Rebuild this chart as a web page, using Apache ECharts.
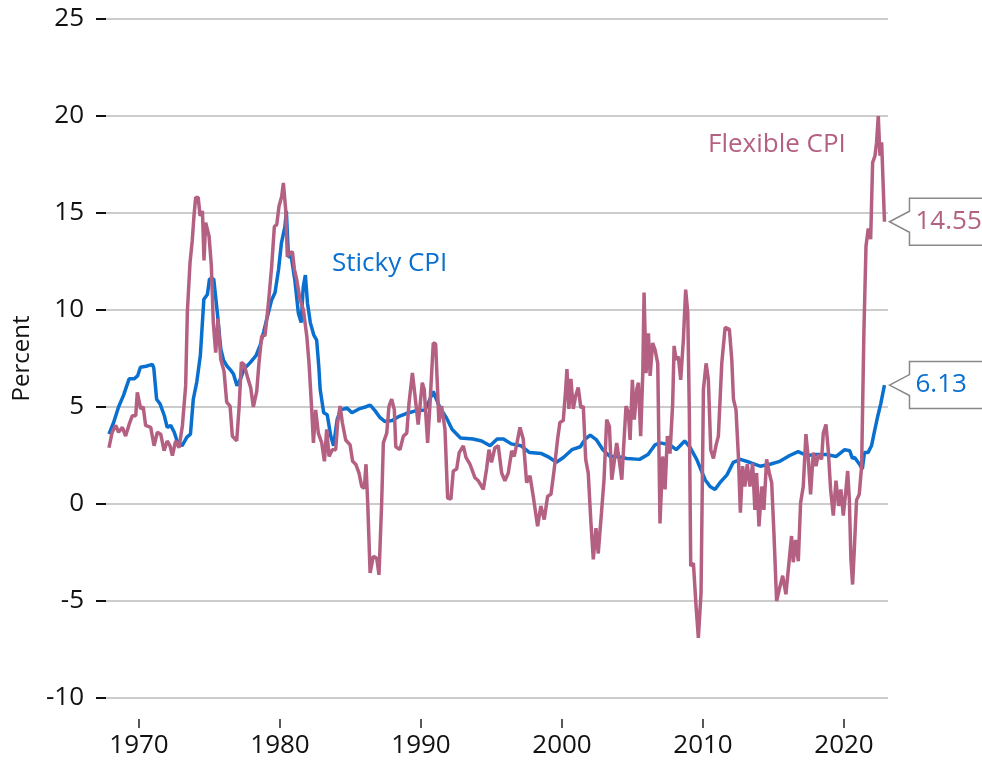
<!DOCTYPE html>
<html>
<head>
<meta charset="utf-8">
<script src="https://cdn.jsdelivr.net/npm/echarts@6/dist/echarts.min.js"></script>
<style>
  html, body { margin: 0; padding: 0; background: #fff; }
  #chart { width: 982px; height: 768px; }
</style>
</head>
<body>
<div id="chart"></div>
<script>
// Sticky vs flexible CPI, 12-month percent change
const yearTicks = [1970, 1980, 1990, 2000, 2010, 2020]

const stickyDates = [
  1967.87, 1968.2, 1968.55, 1968.9, 1969.3, 1969.65, 1969.9, 1970.1, 1970.5, 1970.95,
  1971.05, 1971.25, 1971.5, 1971.8, 1972.0, 1972.25, 1972.5, 1972.7, 1973.05, 1973.4,
  1973.65, 1973.85, 1974.1, 1974.35, 1974.6, 1974.85, 1975.0, 1975.3, 1975.55, 1975.8,
  1976.0, 1976.25, 1976.5, 1976.7, 1976.95, 1977.2, 1977.45, 1977.9, 1978.3, 1978.6,
  1978.85, 1979.05, 1979.4, 1979.65, 1979.9, 1980.1, 1980.35, 1980.45, 1980.6, 1980.8,
  1981.05, 1981.3, 1981.5, 1981.65, 1981.8, 1981.95, 1982.15, 1982.4, 1982.6, 1982.75,
  1982.85, 1983.1, 1983.35, 1983.6, 1983.8, 1984.05, 1984.3, 1984.75, 1985.1, 1985.6,
  1986.05, 1986.4, 1986.75, 1987.1, 1987.45, 1987.95, 1988.4, 1988.9, 1989.6, 1990.3,
  1990.87, 1991.35, 1991.8, 1992.2, 1992.8, 1993.7, 1994.3, 1994.9, 1995.4, 1995.85,
  1996.4, 1997.1, 1997.7, 1998.55, 1999.1, 1999.6, 2000.1, 2000.7, 2001.3, 2001.65,
  2002.0, 2002.45, 2002.9, 2003.4, 2003.9, 2004.6, 2005.5, 2006.1, 2006.6, 2006.95,
  2007.65, 2008.1, 2008.7, 2009.1, 2009.55, 2010.15, 2010.5, 2010.85, 2011.2, 2011.7,
  2012.15, 2012.65, 2013.3, 2014.05, 2014.75, 2015.45, 2016.15, 2016.75, 2017.35, 2018.05,
  2018.75, 2019.45, 2020.05, 2020.4, 2020.6, 2020.75, 2021.1, 2021.3, 2021.45, 2021.7,
  2021.95, 2022.15, 2022.4, 2022.6, 2022.87
]
const stickyValues = [
  3.6, 4.2, 5.0, 5.6, 6.45, 6.45, 6.6, 7.05, 7.1, 7.2,
  7.0, 5.4, 5.15, 4.55, 3.95, 4.05, 3.7, 3.25, 3.0, 3.45,
  3.6, 5.4, 6.3, 7.65, 10.55, 10.8, 11.6, 11.6, 9.9, 8.0,
  7.4, 7.1, 6.9, 6.7, 6.1, 6.45, 6.95, 7.3, 7.65, 8.2,
  8.9, 9.5, 10.5, 10.9, 12.1, 13.45, 14.3, 15.1, 12.75, 12.75,
  11.55, 9.85, 9.35, 11.2, 11.8, 10.35, 9.35, 8.7, 8.45, 7.1,
  5.9, 4.7, 4.6, 3.5, 3.0, 4.35, 4.85, 4.95, 4.7, 4.9,
  5.0, 5.1, 4.8, 4.45, 4.25, 4.3, 4.5, 4.65, 4.8, 4.85,
  5.8, 4.95, 4.45, 3.85, 3.4, 3.35, 3.25, 3.0, 3.35, 3.35,
  3.1, 3.0, 2.65, 2.6, 2.4, 2.15, 2.4, 2.8, 2.95, 3.35,
  3.55, 3.3, 2.8, 2.45, 2.45, 2.35, 2.3, 2.55, 3.05, 3.15,
  3.05, 2.8, 3.25, 2.9, 2.3, 1.25, 0.9, 0.75, 1.1, 1.5,
  2.15, 2.3, 2.15, 1.95, 2.05, 2.2, 2.5, 2.7, 2.5, 2.55,
  2.55, 2.45, 2.8, 2.75, 2.35, 2.4, 2.05, 1.8, 2.65, 2.65,
  3.0, 3.7, 4.55, 5.15, 6.13
]

const flexDates = [
  1967.87, 1968.1, 1968.35, 1968.55, 1968.82, 1969.05, 1969.3, 1969.53, 1969.77, 1969.88,
  1970.12, 1970.3, 1970.47, 1970.83, 1971.07, 1971.3, 1971.54, 1971.78, 1972.0, 1972.2,
  1972.37, 1972.6, 1972.84, 1973.08, 1973.31, 1973.43, 1973.62, 1973.78, 1973.9, 1974.02,
  1974.2, 1974.33, 1974.5, 1974.61, 1974.73, 1974.97, 1975.13, 1975.27, 1975.44, 1975.6,
  1975.8, 1976.03, 1976.22, 1976.46, 1976.62, 1976.93, 1977.1, 1977.26, 1977.45, 1977.73,
  1977.92, 1978.11, 1978.2, 1978.35, 1978.5, 1978.7, 1978.94, 1979.18, 1979.41, 1979.6,
  1979.77, 1979.93, 1980.12, 1980.24, 1980.4, 1980.52, 1980.71, 1980.88, 1981.02, 1981.19,
  1981.42, 1981.66, 1981.9, 1982.06, 1982.25, 1982.37, 1982.53, 1982.72, 1982.96, 1983.15,
  1983.31, 1983.48, 1983.71, 1983.95, 1984.09, 1984.26, 1984.42, 1984.66, 1984.97, 1985.15,
  1985.37, 1985.6, 1985.8, 1985.98, 1986.1, 1986.22, 1986.39, 1986.62, 1986.86, 1987.02,
  1987.21, 1987.33, 1987.57, 1987.73, 1987.92, 1988.11, 1988.21, 1988.51, 1988.75, 1988.99,
  1989.15, 1989.39, 1989.58, 1989.8, 1990.09, 1990.23, 1990.47, 1990.63, 1990.87, 1991.04,
  1991.27, 1991.46, 1991.7, 1991.89, 1992.12, 1992.29, 1992.53, 1992.71, 1993.0, 1993.19,
  1993.47, 1993.83, 1994.06, 1994.42, 1994.65, 1994.82, 1995.0, 1995.24, 1995.48, 1995.72,
  1995.95, 1996.19, 1996.43, 1996.61, 1996.78, 1997.02, 1997.25, 1997.49, 1997.73, 1997.96,
  1998.27, 1998.5, 1998.74, 1998.98, 1999.22, 1999.45, 1999.69, 1999.85, 2000.09, 2000.26,
  2000.35, 2000.49, 2000.63, 2000.8, 2000.96, 2001.15, 2001.34, 2001.51, 2001.68, 2001.86,
  2002.05, 2002.22, 2002.41, 2002.57, 2002.8, 2002.98, 2003.17, 2003.36, 2003.53, 2003.69,
  2003.88, 2004.07, 2004.24, 2004.4, 2004.54, 2004.71, 2004.83, 2004.99, 2005.13, 2005.3,
  2005.42, 2005.58, 2005.73, 2005.82, 2005.96, 2006.13, 2006.25, 2006.43, 2006.6, 2006.79,
  2006.95, 2007.14, 2007.31, 2007.47, 2007.66, 2007.85, 2007.95, 2008.09, 2008.25, 2008.42,
  2008.61, 2008.77, 2008.92, 2009.03, 2009.13, 2009.32, 2009.51, 2009.67, 2009.86, 2010.03,
  2010.22, 2010.38, 2010.55, 2010.74, 2010.93, 2011.09, 2011.33, 2011.57, 2011.87, 2012.04,
  2012.16, 2012.34, 2012.51, 2012.65, 2012.81, 2012.97, 2013.14, 2013.33, 2013.52, 2013.68,
  2013.8, 2013.97, 2014.16, 2014.32, 2014.51, 2014.7, 2014.87, 2015.03, 2015.22, 2015.41,
  2015.65, 2015.88, 2016.12, 2016.28, 2016.4, 2016.57, 2016.76, 2016.92, 2017.11, 2017.3,
  2017.47, 2017.63, 2017.82, 2018.01, 2018.18, 2018.41, 2018.53, 2018.72, 2018.88, 2019.05,
  2019.24, 2019.43, 2019.62, 2019.78, 2019.95, 2020.14, 2020.26, 2020.38, 2020.49, 2020.61,
  2020.73, 2020.89, 2021.08, 2021.25, 2021.41, 2021.56, 2021.72, 2021.89, 2022.03, 2022.2,
  2022.31, 2022.43, 2022.55, 2022.67, 2022.87
]
const flexValues = [
  2.9, 3.7, 4.05, 3.7, 3.95, 3.5, 4.1, 4.55, 4.55, 5.75,
  4.9, 5.0, 4.05, 3.95, 3.0, 3.7, 3.6, 2.75, 3.25, 3.0,
  2.5, 3.25, 2.9, 4.05, 6.1, 9.9, 12.45, 13.6, 14.85, 15.8,
  15.8, 14.85, 15.1, 12.55, 14.5, 13.8, 12.3, 9.35, 7.8, 9.55,
  7.45, 6.85, 5.25, 5.05, 3.5, 3.25, 5.0, 7.3, 7.2, 6.45,
  6.0, 5.0, 5.0, 5.8, 7.2, 8.65, 8.7, 10.35, 12.25, 14.3,
  14.4, 15.35, 15.85, 16.55, 15.2, 12.75, 12.95, 13.0, 12.1, 11.55,
  10.55, 10.0, 8.65, 7.25, 4.85, 3.15, 4.85, 3.65, 3.15, 2.2,
  3.85, 2.45, 2.8, 2.8, 4.2, 5.05, 4.2, 3.3, 3.05, 2.2,
  2.05, 1.6, 0.9, 0.8, 2.05, 0.05, -3.55, -2.7, -2.8, -3.65,
  0.05, 3.15, 3.65, 5.05, 5.4, 4.85, 2.95, 2.8, 3.5, 3.65,
  5.2, 6.75, 5.55, 4.1, 6.25, 5.9, 3.15, 5.05, 8.3, 8.25,
  4.2, 5.05, 3.85, 0.3, 0.25, 1.7, 1.8, 2.65, 3.0, 2.4,
  2.05, 1.35, 1.2, 0.75, 1.8, 2.8, 2.15, 2.9, 3.0, 1.6,
  1.2, 1.6, 2.75, 2.45, 3.05, 3.95, 3.35, 1.1, 1.45, 0.4,
  -1.15, -0.1, -0.8, 0.4, 0.5, 1.8, 3.35, 4.2, 4.3, 5.9,
  6.95, 4.9, 6.45, 4.9, 5.55, 6.0, 4.95, 5.05, 2.3, 1.6,
  -0.95, -2.85, -1.25, -2.55, -0.45, 1.25, 4.35, 4.0, 1.25, 2.1,
  3.15, 2.2, 1.25, 3.3, 5.05, 4.7, 3.3, 6.4, 4.35, 5.9,
  6.25, 3.5, 6.75, 10.9, 6.75, 8.8, 6.6, 8.3, 7.95, 7.25,
  -1.0, 2.45, 0.75, 3.5, 2.6, 5.2, 8.15, 7.45, 7.6, 6.4,
  8.5, 11.05, 9.85, 4.7, -3.2, -3.05, -5.3, -6.9, -4.6, 5.9,
  7.25, 6.4, 2.8, 2.35, 3.05, 3.5, 7.25, 9.1, 9.0, 7.45,
  5.4, 4.85, 2.45, -0.45, 1.95, 0.9, 2.05, 0.9, 2.1, -0.3,
  1.6, -1.15, 0.9, -0.3, 2.3, 1.6, 1.1, -1.5, -5.0, -4.4,
  -3.7, -4.65, -2.85, -1.65, -3.0, -1.85, -2.95, 0.05, 0.9, 3.6,
  2.3, 0.5, 2.65, 1.95, 2.55, 2.3, 3.65, 4.1, 2.8, 0.75,
  -0.6, 1.2, -0.1, 0.75, -0.6, 0.75, 1.7, 0.2, -2.85, -4.15,
  -2.35, 0.2, 0.5, 1.95, 8.85, 13.3, 14.2, 13.65, 17.6, 17.95,
  18.65, 20.0, 17.95, 18.65, 14.55
]

const stickyColor = '#0a70cf'
const flexColor = '#b46082'
const fontFamily = '"Open Sans", sans-serif'

const zip = (xs, ys) => xs.map((x, i) => [x, ys[i]])
const stickyData = zip(stickyDates, stickyValues)
const flexData = zip(flexDates, flexValues)

const chart = echarts.init(document.getElementById('chart'))

chart.setOption({
  animation: false,
  textStyle: { fontFamily: fontFamily },
  grid: { left: 106, right: 94, top: 19, bottom: 70 },
  xAxis: {
    type: 'value',
    min: 1967.66,
    max: 2023.12,
    offset: 21,
    axisLine: { show: false, onZero: false },
    splitLine: { show: false },
    axisTick: {
      show: true,
      length: 9,
      customValues: yearTicks,
      lineStyle: { color: '#222', width: 1.5 }
    },
    axisLabel: {
      customValues: yearTicks,
      formatter: v => String(v),
      color: '#111',
      fontSize: 26,
      margin: 14,
      fontFamily: fontFamily
    }
  },
  yAxis: {
    type: 'value',
    min: -10,
    max: 25,
    interval: 5,
    name: 'Percent',
    nameLocation: 'middle',
    nameRotate: 90,
    nameGap: 72,
    nameTextStyle: { color: '#111', fontSize: 24, fontFamily: fontFamily },
    axisLine: { show: false },
    axisTick: { show: true, length: 10, lineStyle: { color: '#111', width: 2 } },
    axisLabel: { color: '#111', fontSize: 26, margin: 22, fontFamily: fontFamily },
    splitLine: { lineStyle: { color: '#cccccc', width: 2 } }
  },
  series: [
    {
      name: 'Sticky CPI',
      type: 'line',
      data: stickyData,
      showSymbol: false,
      lineStyle: { color: stickyColor, width: 3.5 },
      z: 2
    },
    {
      name: 'Flexible CPI',
      type: 'line',
      data: flexData,
      showSymbol: false,
      lineStyle: { color: flexColor, width: 3.5 },
      z: 3
    }
  ]
})

// callout boxes at the last observation of each series
function callout(point, text, color) {
  const p = chart.convertToPixel({ gridIndex: 0 }, point)
  const tx = p[0] + 5
  const ty = p[1]
  return [
    {
      type: 'polygon',
      shape: {
        points: [
          [tx, ty], [tx + 20, ty - 10.5], [tx + 20, ty - 23.5], [tx + 110, ty - 23.5],
          [tx + 110, ty + 23.5], [tx + 20, ty + 23.5], [tx + 20, ty + 10.5]
        ]
      },
      style: { fill: '#fff', stroke: '#888', lineWidth: 1.5 },
      z: 10
    },
    {
      type: 'text',
      x: tx + 26,
      y: ty,
      style: {
        text: text,
        fill: color,
        font: '26px ' + fontFamily,
        verticalAlign: 'middle'
      },
      z: 11
    }
  ]
}

const lastSticky = stickyData[stickyData.length - 1]
const lastFlex = flexData[flexData.length - 1]

chart.setOption({
  graphic: [
    ...callout(lastFlex, lastFlex[1].toFixed(2), flexColor),
    ...callout(lastSticky, lastSticky[1].toFixed(2), stickyColor),
    {
      type: 'text',
      x: 708,
      y: 145,
      style: { text: 'Flexible CPI', fill: flexColor, font: '26px ' + fontFamily, verticalAlign: 'middle' },
      z: 11
    },
    {
      type: 'text',
      x: 332,
      y: 264,
      style: { text: 'Sticky CPI', fill: stickyColor, font: '26px ' + fontFamily, verticalAlign: 'middle' },
      z: 11
    }
  ]
})
</script>
</body>
</html>
